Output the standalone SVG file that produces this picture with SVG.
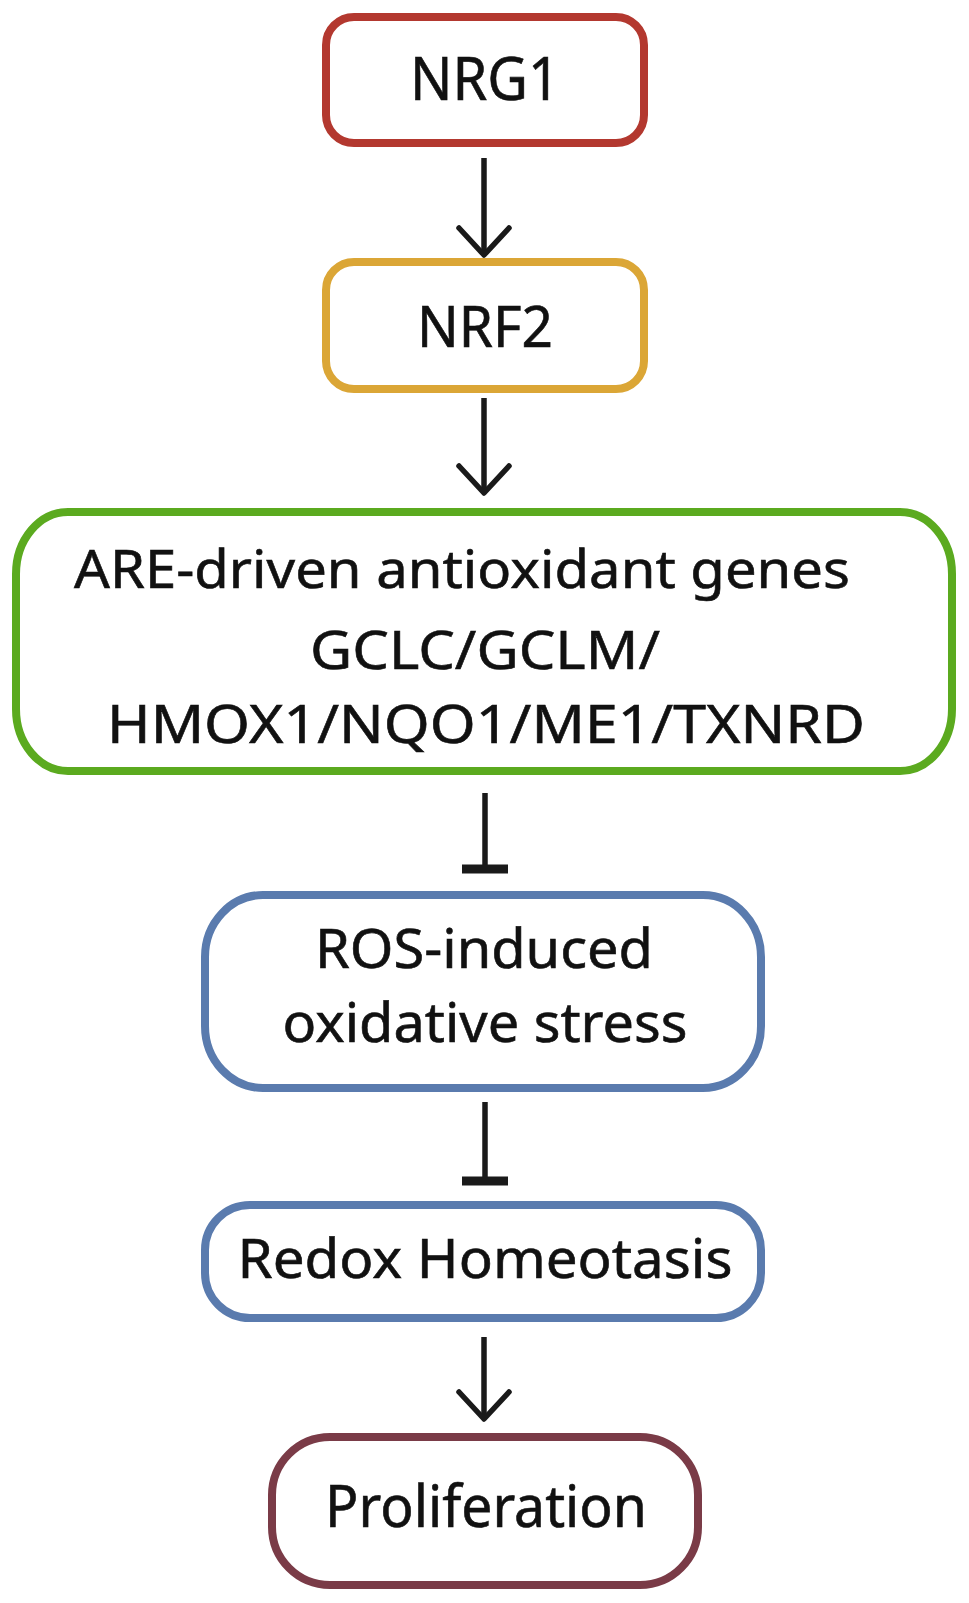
<svg xmlns="http://www.w3.org/2000/svg" width="969" height="1603" viewBox="0 0 969 1603">
<style>
.box{fill:#fff;stroke-width:8}
.t{font-family:"Noto Sans","Open Sans","DejaVu Sans",sans-serif;fill:#111;text-anchor:middle;stroke:#111;stroke-width:0.6}
.c{stroke:#1a1a1a;stroke-width:5.5;fill:none}
</style>
<defs>
<marker id="arr" markerUnits="userSpaceOnUse" orient="auto" refX="0" refY="0" markerWidth="60" markerHeight="60" overflow="visible">
<path d="M-27,-25 L0,0 L-27,25" fill="none" stroke="#1a1a1a" stroke-width="5.5" stroke-linejoin="round" stroke-linecap="round"/>
</marker>
<marker id="bar" markerUnits="userSpaceOnUse" orient="auto" refX="0" refY="0" markerWidth="60" markerHeight="60" overflow="visible">
<path d="M0,-23 L0,23" stroke="#1a1a1a" stroke-width="9"/>
</marker>
</defs>
<rect width="969" height="1603" fill="#fff"/>
<g id="connectors">
<line class="c" x1="484" y1="158" x2="484" y2="255" marker-end="url(#arr)"/>
<line class="c" x1="484" y1="398" x2="484" y2="493" marker-end="url(#arr)"/>
<line class="c" x1="485" y1="793" x2="485" y2="869" marker-end="url(#bar)"/>
<line class="c" x1="485" y1="1102" x2="485" y2="1181" marker-end="url(#bar)"/>
<line class="c" x1="484" y1="1337" x2="484" y2="1419" marker-end="url(#arr)"/>
</g>
<g id="nrg1">
<rect class="box" x="326" y="17" width="318" height="126" rx="28" stroke="#B3382F"/>
<text class="t" x="485" y="100" font-size="60" textLength="150" lengthAdjust="spacingAndGlyphs">NRG1</text>
</g>
<g id="nrf2">
<rect class="box" x="326" y="262" width="318" height="127" rx="28" stroke="#DBA636"/>
<text class="t" x="485" y="347" font-size="57" textLength="136" lengthAdjust="spacingAndGlyphs">NRF2</text>
</g>
<g id="are">
<rect class="box" x="16" y="512" width="936" height="259" rx="52" ry="62" stroke="#5BAA1F"/>
<text class="t" x="462" y="588" font-size="53" textLength="776" lengthAdjust="spacingAndGlyphs">ARE-driven antioxidant genes</text>
<text class="t" x="485" y="669" font-size="53" textLength="350" lengthAdjust="spacingAndGlyphs">GCLC/GCLM/</text>
<text class="t" x="486" y="743" font-size="53" textLength="758" lengthAdjust="spacingAndGlyphs">HMOX1/NQO1/ME1/TXNRD</text>
</g>
<g id="ros">
<rect class="box" x="205" y="895" width="556" height="193" rx="58" ry="62" stroke="#5A7BAE"/>
<text class="t" x="484" y="968" font-size="55" textLength="338" lengthAdjust="spacingAndGlyphs">ROS-induced</text>
<text class="t" x="485" y="1042" font-size="55" textLength="405" lengthAdjust="spacingAndGlyphs">oxidative stress</text>
</g>
<g id="redox">
<rect class="box" x="205" y="1205" width="556" height="113" rx="45" stroke="#5A7BAE"/>
<text class="t" x="485" y="1278" font-size="55" textLength="495" lengthAdjust="spacingAndGlyphs">Redox Homeotasis</text>
</g>
<g id="proliferation">
<rect class="box" x="272" y="1437" width="426" height="148" rx="58" stroke="#7A3B47"/>
<text class="t" x="486" y="1527" font-size="58" textLength="322" lengthAdjust="spacingAndGlyphs">Proliferation</text>
</g>
</svg>
